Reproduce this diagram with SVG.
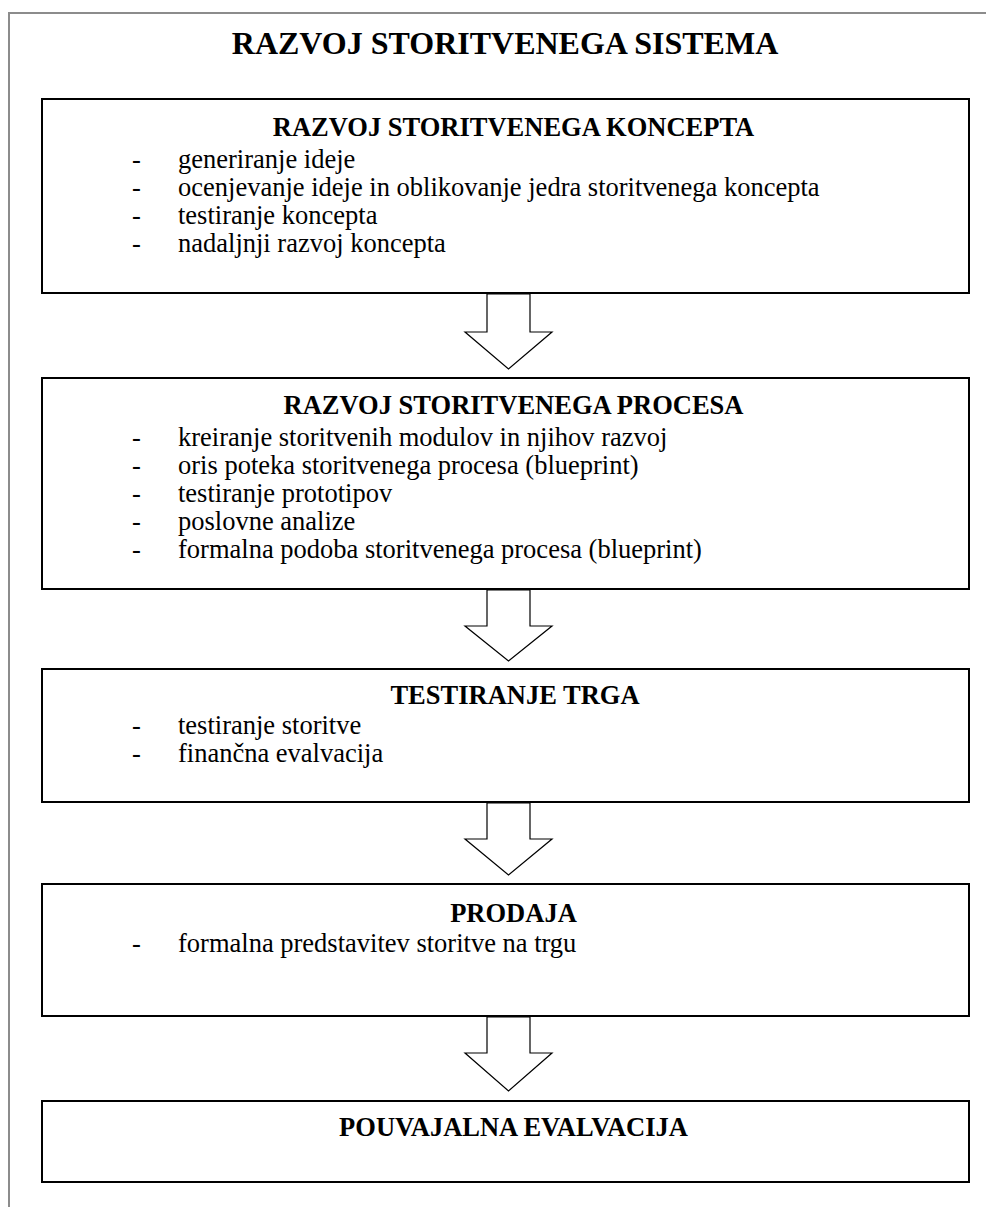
<svg xmlns="http://www.w3.org/2000/svg" width="987" height="1207" viewBox="0 0 987 1207">
<style>
.box{fill:#fff;stroke:#000;stroke-width:2}
.frame{fill:none;stroke:#8c8c8c;stroke-width:2}
.arrow{fill:#fff;stroke:#000;stroke-width:1.2;stroke-linejoin:miter}
.h{font-family:"Liberation Serif","Times New Roman",serif;font-weight:bold;font-size:26.5px;text-anchor:middle;fill:#000}
.t{font-family:"Liberation Serif","Times New Roman",serif;font-size:26.5px;fill:#000}
.title{font-family:"Liberation Serif","Times New Roman",serif;font-weight:bold;font-size:32px;text-anchor:middle;fill:#000}
</style>
<rect width="987" height="1207" fill="#fff"/>
<path class="frame" d="M9,1207 V13 H986"/>
<text class="title" x="505" y="54">RAZVOJ STORITVENEGA SISTEMA</text>

<g id="n1">
<rect class="box" x="42" y="99" width="927" height="194"/>
<text class="h" x="513.5" y="136">RAZVOJ STORITVENEGA KONCEPTA</text>
<text class="t" x="132" y="168">-</text><text class="t" x="178" y="168">generiranje ideje</text>
<text class="t" x="132" y="196">-</text><text class="t" x="178" y="196">ocenjevanje ideje in oblikovanje jedra storitvenega koncepta</text>
<text class="t" x="132" y="224">-</text><text class="t" x="178" y="224">testiranje koncepta</text>
<text class="t" x="132" y="252">-</text><text class="t" x="178" y="252">nadaljnji razvoj koncepta</text>
</g>

<g id="n2">
<rect class="box" x="42" y="378" width="927" height="211"/>
<text class="h" x="513.5" y="414">RAZVOJ STORITVENEGA PROCESA</text>
<text class="t" x="132" y="446">-</text><text class="t" x="178" y="446">kreiranje storitvenih modulov in njihov razvoj</text>
<text class="t" x="132" y="474">-</text><text class="t" x="178" y="474">oris poteka storitvenega procesa (blueprint)</text>
<text class="t" x="132" y="502">-</text><text class="t" x="178" y="502">testiranje prototipov</text>
<text class="t" x="132" y="530">-</text><text class="t" x="178" y="530">poslovne analize</text>
<text class="t" x="132" y="558">-</text><text class="t" x="178" y="558">formalna podoba storitvenega procesa (blueprint)</text>
</g>

<g id="n3">
<rect class="box" x="42" y="669" width="927" height="133"/>
<text class="h" x="515" y="704">TESTIRANJE TRGA</text>
<text class="t" x="132" y="734">-</text><text class="t" x="178" y="734">testiranje storitve</text>
<text class="t" x="132" y="762">-</text><text class="t" x="178" y="762">finančna evalvacija</text>
</g>

<g id="n4">
<rect class="box" x="42" y="884" width="927" height="132"/>
<text class="h" x="513.5" y="922">PRODAJA</text>
<text class="t" x="132" y="952">-</text><text class="t" x="178" y="952">formalna predstavitev storitve na trgu</text>
</g>

<g id="n5">
<rect class="box" x="42" y="1101" width="927" height="81"/>
<text class="h" x="513.5" y="1136">POUVAJALNA EVALVACIJA</text>
</g>

<g id="connectors">
<polygon class="arrow" points="487,294 487,332 465,332 508.5,369 552,332 530,332 530,294"/>
<polygon class="arrow" points="487,590 487,626 465,626 508.5,661 552,626 530,626 530,590"/>
<polygon class="arrow" points="487,803 487,839 465,839 508.5,875 552,839 530,839 530,803"/>
<polygon class="arrow" points="487,1017 487,1053 465,1053 508.5,1091 552,1053 530,1053 530,1017"/>
</g>
</svg>
